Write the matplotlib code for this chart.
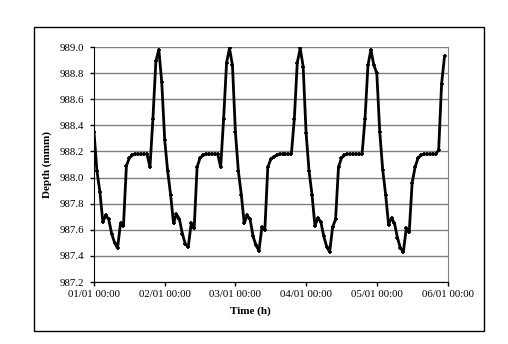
import matplotlib
matplotlib.use("Agg")
import matplotlib.pyplot as plt
from matplotlib.patches import Rectangle

# hourly depth readings, one list per day
day1 = [988.35, 988.05, 987.89, 987.66, 987.71, 987.68, 987.57, 987.50, 987.46, 987.65, 987.63, 988.09,
        988.15, 988.17, 988.18, 988.18, 988.18, 988.18, 988.18, 988.08, 988.45, 988.89, 988.98, 988.73]
day2 = [988.29, 988.05, 987.87, 987.65, 987.72, 987.68, 987.57, 987.49, 987.47, 987.65, 987.61, 988.08,
        988.15, 988.17, 988.18, 988.18, 988.18, 988.18, 988.18, 988.08, 988.45, 988.88, 988.99, 988.86]
day3 = [988.35, 988.05, 987.87, 987.65, 987.71, 987.68, 987.55, 987.48, 987.44, 987.62, 987.60, 988.08,
        988.14, 988.16, 988.17, 988.18, 988.18, 988.18, 988.18, 988.18, 988.45, 988.88, 988.99, 988.85]
day4 = [988.34, 988.05, 987.87, 987.63, 987.69, 987.66, 987.55, 987.47, 987.43, 987.62, 987.68, 988.08,
        988.15, 988.17, 988.18, 988.18, 988.18, 988.18, 988.18, 988.18, 988.45, 988.86, 988.98, 988.86]
day5 = [988.80, 988.35, 988.06, 987.87, 987.64, 987.69, 987.65, 987.54, 987.46, 987.43, 987.61, 987.58,
        987.96, 988.08, 988.15, 988.17, 988.18, 988.18, 988.18, 988.18, 988.18, 988.21, 988.72, 988.93]

depth = day1 + day2 + day3 + day4 + day5
hours = list(range(len(depth)))

tick_hours = [0, 24, 48, 72, 96, 120]
tick_labels = ["01/01 00:00", "02/01 00:00", "03/01 00:00", "04/01 00:00", "05/01 00:00", "06/01 00:00"]
y_ticks = [987.2, 987.4, 987.6, 987.8, 988.0, 988.2, 988.4, 988.6, 988.8, 989.0]

plt.rcParams["font.family"] = ["Liberation Serif", "DejaVu Serif"]
plt.rcParams["font.size"] = 7.8

fig = plt.figure(figsize=(5.08, 3.44), dpi=100)
fig.patches.append(Rectangle((34 / 508, 1 - 331 / 344), 450 / 508, 304 / 344, transform=fig.transFigure,
                             fill=False, edgecolor="black", linewidth=1.0))

ax = fig.add_axes([94 / 508, 1 - 282 / 344, 353.5 / 508, 235 / 344])
ax.plot(hours, depth, color="black", linewidth=2.0, marker="+", markersize=3.5, markeredgewidth=1.2)

ax.set_xlim(0, 120)
ax.set_ylim(987.2, 989.0)
ax.set_yticks(y_ticks)
ax.set_yticklabels(["%.1f" % v for v in y_ticks])
ax.set_xticks(tick_hours)
ax.set_xticklabels(tick_labels)
ax.yaxis.grid(True, color="#808080", linewidth=1.0)
ax.set_axisbelow(True)

ax.spines["top"].set_visible(False)
ax.spines["right"].set_color("#808080")
ax.spines["left"].set_color("black")
ax.spines["bottom"].set_color("black")
ax.tick_params(axis="y", direction="out", length=3, width=1, pad=4)
ax.tick_params(axis="x", direction="out", length=3, width=1, pad=3)

fig.text(250 / 508, 1 - 311 / 344, "Time (h)", ha="center", va="center", fontweight="bold", fontsize=8)
fig.text(47 / 508, 1 - 165 / 344, "Depth (mmm)", ha="center", va="center", rotation=90,
         fontweight="bold", fontsize=8)

fig.savefig("out.png", dpi=100)
